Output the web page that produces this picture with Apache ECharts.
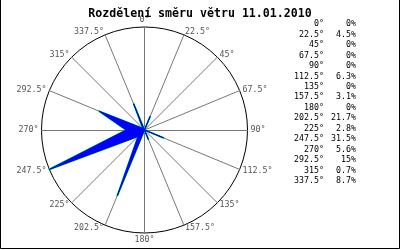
<!DOCTYPE html>
<html><head><meta charset="utf-8">
<script src="https://cdn.jsdelivr.net/npm/echarts@6/dist/echarts.min.js"></script>
<style>html,body{margin:0;padding:0;background:#fff}#c{width:400px;height:250px}</style>
</head><body><div id="c"></div>
<script>
const titleText = 'Rozdělení směru větru 11.01.2010';
const directions = [0, 22.5, 45, 67.5, 90, 112.5, 135, 157.5, 180, 202.5, 225, 247.5, 270, 292.5, 315, 337.5];
const percents = [0, 4.5, 0, 0, 0, 6.3, 0, 3.1, 0, 21.7, 2.8, 31.5, 5.6, 15, 0.7, 8.7];
const maxPercent = 31.5;

// radar draws counter-clockwise: feed indicators in reverse compass order (0, 337.5, 315, ...)
const order = directions.map((d, i) => (directions.length - i) % directions.length);

const chart = echarts.init(document.getElementById('c'), null, {renderer: 'canvas'});
const mono = 'DejaVu Sans Mono';
const tableItems = [];
directions.forEach((d, i) => {
  const y = 24 + i * 10.47;
  tableItems.push({type: 'text', x: 324, y: y, style: {text: d + '°', align: 'right', verticalAlign: 'middle', font: '8.3px "' + mono + '"', fill: '#000'}});
  tableItems.push({type: 'text', x: 356, y: y, style: {text: percents[i] + '%', align: 'right', verticalAlign: 'middle', font: '8.3px "' + mono + '"', fill: '#000'}});
});
tableItems.push({type: 'polyline', shape: {points: [[0.5, -2], [0.5, 248.5], [399.5, 248.5], [399.5, -2]]}, style: {stroke: '#000', lineWidth: 1, fill: null}});

const radarValues = order.map(i => percents[i]);

chart.setOption({
  animation: false,
  backgroundColor: '#fff',
  title: {text: titleText, left: 'center', top: 3, textStyle: {fontFamily: mono, fontSize: 11.6, fontWeight: 'bold', color: '#000'}},
  radar: {
    center: [144.5, 130],
    radius: 103,
    startAngle: 90,
    shape: 'circle',
    splitNumber: 1,
    indicator: order.map(i => ({name: directions[i] + '°', min: 0, max: maxPercent})),
    axisName: {color: '#555', fontFamily: mono, fontSize: 8.3},
    nameGap: 3,
    axisLine: {lineStyle: {color: '#777', width: 1}},
    splitLine: {lineStyle: {color: '#000', width: 1}},
    splitArea: {show: false},
    axisTick: {show: false},
    axisLabel: {show: false}
  },
  series: [{
    type: 'radar',
    symbol: 'none',
    data: [{value: radarValues}],
    lineStyle: {color: '#00ee00', width: 1.8},
    z: 2
  }, {
    type: 'radar',
    symbol: 'none',
    data: [{value: radarValues}],
    lineStyle: {color: '#0000ff', width: 1},
    areaStyle: {color: '#0000ff', opacity: 1},
    z: 3
  }],
  graphic: tableItems
});
</script></body></html>
